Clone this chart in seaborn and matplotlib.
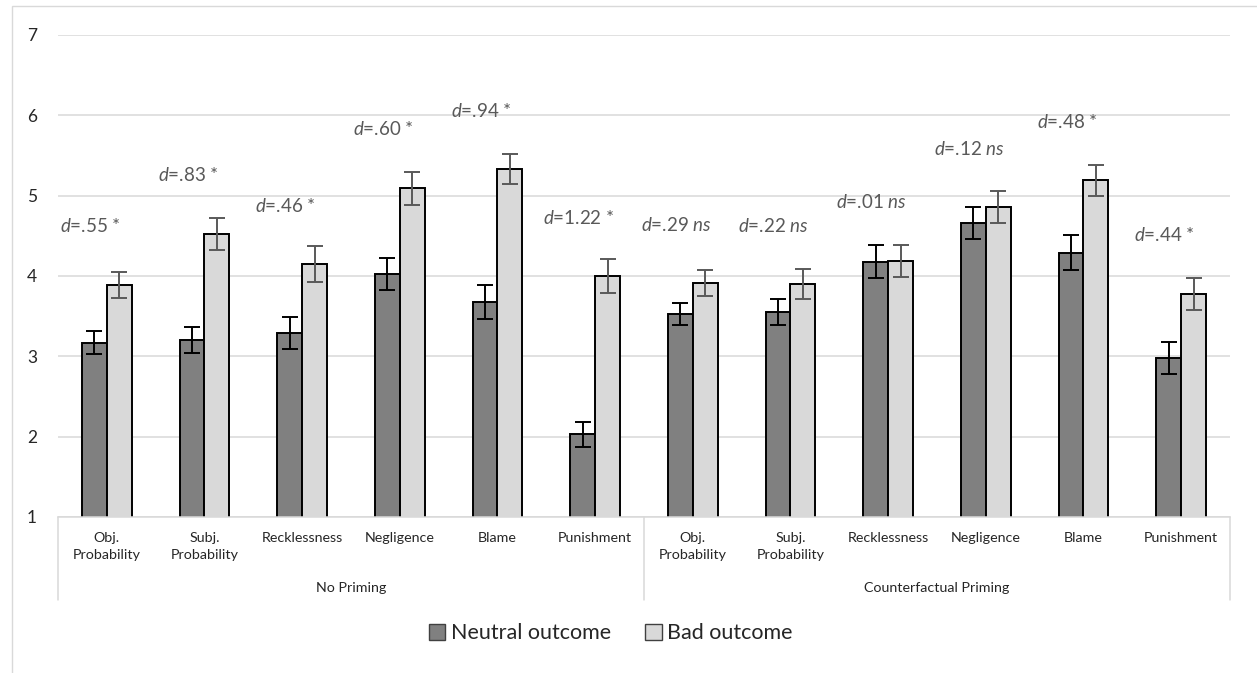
import numpy as np
import pandas as pd
import seaborn as sns
import matplotlib.pyplot as plt
from matplotlib.patches import Patch, Rectangle

# data
measures = ["Obj.\nProbability", "Subj.\nProbability", "Recklessness", "Negligence", "Blame", "Punishment"]
groups = ["No Priming", "Counterfactual Priming"]
outcomes = ["Neutral outcome", "Bad outcome"]

neutral = [3.17, 3.20, 3.29, 4.02, 3.68, 2.03, 3.53, 3.55, 4.18, 4.66, 4.29, 2.98]
neutral_err = [0.14, 0.16, 0.20, 0.20, 0.21, 0.155, 0.14, 0.16, 0.20, 0.20, 0.22, 0.20]
bad = [3.89, 4.52, 4.15, 5.09, 5.33, 4.00, 3.91, 3.90, 4.19, 4.86, 5.19, 3.78]
bad_err = [0.16, 0.20, 0.22, 0.20, 0.19, 0.21, 0.16, 0.19, 0.20, 0.20, 0.19, 0.20]

effect_d = [".55", ".83", ".46", ".60", ".94", "1.22", ".29", ".22", ".01", ".12", ".48", ".44"]
effect_sig = [True, True, True, True, True, True, False, False, False, False, True, True]
label_y = [4.62, 5.26, 4.87, 5.83, 6.05, 4.72, 4.63, 4.62, 4.92, 5.58, 5.92, 4.51]

sns.set_style("white")
plt.rcParams["font.family"] = ["Lato", "DejaVu Sans"]
plt.rcParams["mathtext.fontset"] = "custom"
plt.rcParams["mathtext.it"] = "Lato:italic"
plt.rcParams["mathtext.rm"] = "Lato"

n = len(neutral)
df = pd.DataFrame({
    "slot": list(range(n)) * 2,
    "outcome": [outcomes[0]] * n + [outcomes[1]] * n,
    "value": neutral + bad,
})

colors = {"Neutral outcome": "#808080", "Bad outcome": "#d9d9d9"}

fig = plt.figure(figsize=(12.57, 6.73), dpi=100)
ax = fig.add_axes([0.0461, 0.2318, 0.9324, 0.7162])

sns.barplot(data=df, x="slot", y="value", hue="outcome", hue_order=outcomes,
            palette=colors, width=0.51, gap=0, errorbar=None,
            edgecolor="black", linewidth=1.4, legend=False, ax=ax)

# error bars at the bar centres
errs = [neutral_err, bad_err]
ecolors = ["black", "#595959"]
for cont, err, ec in zip(ax.containers, errs, ecolors):
    xs = [p.get_x() + p.get_width() / 2 for p in cont.patches]
    ys = [p.get_height() + p.get_y() for p in cont.patches]
    ax.errorbar(xs, ys, yerr=err, fmt="none", ecolor=ec, elinewidth=1.4,
                capsize=6, capthick=1.4, zorder=5)

ax.set_ylim(1, 7)
ax.set_xlim(-0.5, 11.5)
ax.set_yticks(range(1, 8))
ax.tick_params(axis="y", length=0, pad=15, labelsize=12.5, labelcolor="#262626")
ax.yaxis.grid(True, color="#d9d9d9", linewidth=1.1)
ax.set_axisbelow(True)
for s in ["left", "right", "top"]:
    ax.spines[s].set_visible(False)
ax.spines["bottom"].set_color("#d9d9d9")
ax.spines["bottom"].set_linewidth(1.1)

ax.set_xticks(range(n))
ax.set_xticklabels(measures * 2, fontsize=10.3, color="#262626", linespacing=1.45)
ax.tick_params(axis="x", length=0, pad=11)
ax.set_xlabel("")
ax.set_ylabel("")

# group labels and separators
for g, name in enumerate(groups):
    ax.text(2.5 + 6 * g, -0.148, name, transform=ax.get_xaxis_transform(),
            ha="center", va="center", fontsize=10.3, color="#262626")
for xv in [-0.5, 5.5, 11.5]:
    ax.axvline(xv, ymin=-0.172, ymax=0, color="#d9d9d9", linewidth=1.1, clip_on=False)

# effect size labels
for i in range(n):
    sig = "*" if effect_sig[i] else "$ns$"
    ax.text(i - 0.17, label_y[i], f"$d$={effect_d[i]} {sig}", ha="center", va="center",
            fontsize=13.5, color="#595959")

handles = [Patch(facecolor=colors[o], edgecolor="#404040", linewidth=1.0) for o in outcomes]
fig.legend(handles, outcomes, loc="center", bbox_to_anchor=(0.486, 0.059), ncol=2,
           frameon=False, fontsize=15.5, handlelength=0.75, handleheight=0.75,
           handletextpad=0.25, columnspacing=1.6)

fig.add_artist(Rectangle((12 / 1257, -0.5), 1.5, 1.5 - 6 / 673, transform=fig.transFigure,
                         fill=False, edgecolor="#d9d9d9", linewidth=1.0))

fig.savefig("out.png", dpi=100)
